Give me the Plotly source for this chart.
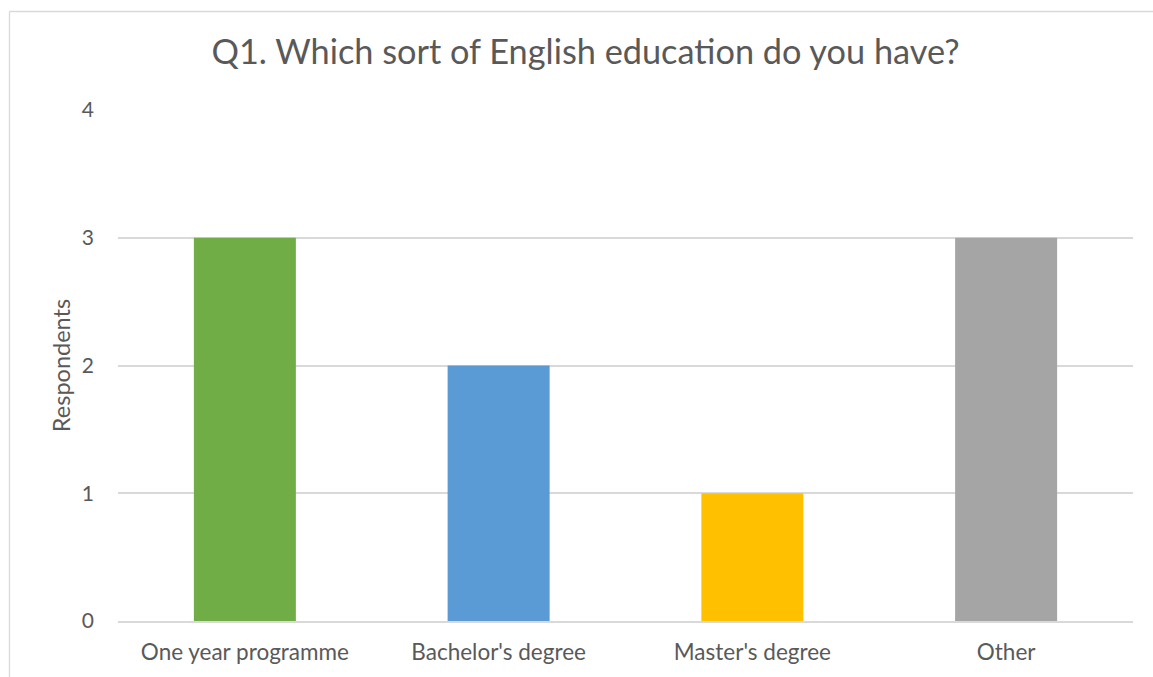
import plotly.graph_objects as go

categories = ["One year programme", "Bachelor's degree", "Master's degree", "Other"]
respondents = [3, 2, 1, 3]
bar_colors = ["#70AD47", "#5B9BD5", "#FFC000", "#A5A5A5"]
y_ticks = [0, 1, 2, 3, 4]

W, H = 1153, 677
L, R, T, B = 118, 20, 110, 56
pw, ph = W - L - R, H - T - B

def px_x(x):
    return (x - L) / pw

def px_y(y):
    return (H - B - y) / ph

fig = go.Figure(go.Bar(
    x=categories, y=respondents, marker_color=bar_colors,
    marker_line_width=0, width=0.402,
))

fig.update_layout(
    width=W, height=H,
    margin=dict(l=L, r=R, t=T, b=B, pad=0),
    paper_bgcolor="white", plot_bgcolor="white",
    font=dict(family="Lato", color="#595959", size=20),
    title=dict(text="Q1. Which sort of English education do you have?",
               x=585.5 / W, xanchor="center", y=1 - 52 / H, yanchor="middle",
               font=dict(size=34.3, color="#595959")),
    showlegend=False,
    shapes=[
        dict(type="line", xref="paper", yref="paper",
             x0=px_x(9.5), x1=px_x(1170), y0=px_y(11.5), y1=px_y(11.5),
             line=dict(color="#D9D9D9", width=1.3)),
        dict(type="line", xref="paper", yref="paper",
             x0=px_x(9.5), x1=px_x(9.5), y0=px_y(11.5), y1=px_y(700),
             line=dict(color="#D9D9D9", width=1.3)),
    ],
)
fig.update_yaxes(range=[0, 4], tickvals=y_ticks, showgrid=True,
                 gridcolor="#D9D9D9", gridwidth=1.5, zeroline=False,
                 showline=False, ticks="", ticklabelstandoff=23,
                 tickfont=dict(size=21),
                 title=dict(text="Respondents", standoff=4,
                            font=dict(size=23.5, color="#595959")),
                 fixedrange=True)
fig.update_xaxes(showline=True, linecolor="#D9D9D9", linewidth=1.5,
                 ticks="", ticklabelstandoff=10, tickfont=dict(size=22.5),
                 fixedrange=True)

fig.write_html("out.html")
